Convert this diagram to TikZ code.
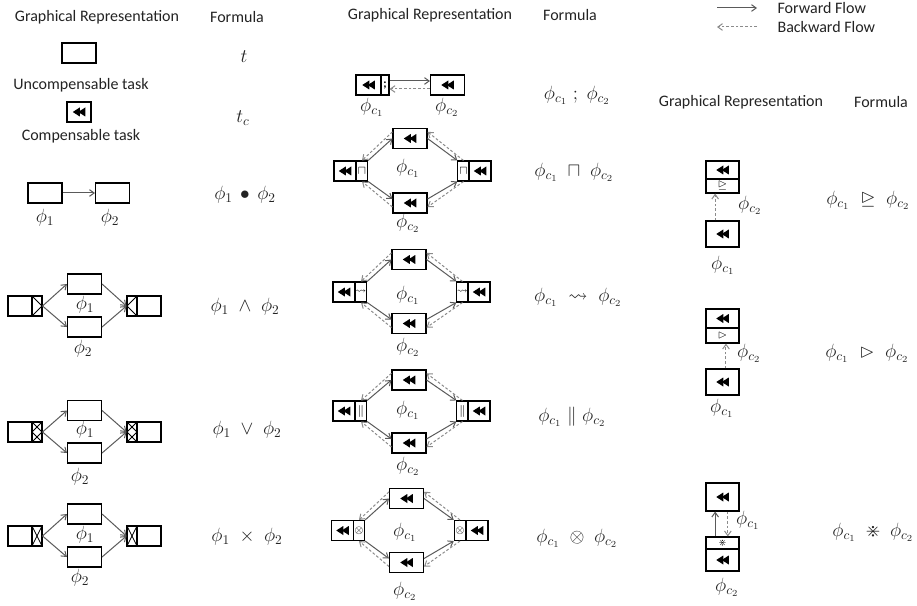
\documentclass[tikz,border=0pt]{standalone}
\usepackage{amssymb,amsmath}
\usepackage{xcolor}
\usepackage{fontspec}
\setmainfont{Carlito}
\usepackage{tikz}
\usetikzlibrary{arrows.meta}
\definecolor{cfgray}{RGB}{90,90,90}
\definecolor{cftext}{RGB}{35,35,35}
\newcommand{\cfrw}{\tikz[x=0.75pt,y=0.75pt,baseline=-3pt]{\fill (0,0) -- (7,4.5) -- (7,-4.5) -- cycle; \fill (5.5,0) -- (12.5,4.5) -- (12.5,-4.5) -- cycle;}}
\tikzset{
  cfbox/.style={draw, line width=0.8pt, inner sep=0pt, minimum width=25.5pt, minimum height=15pt},
  cfhalf/.style={cfbox, minimum width=16.5pt},
  cfgate/.style={cfbox, minimum width=8.5pt, font=\small},
  cfplain/.style={cfbox, minimum width=18pt},
  cfgl/.style={cfbox, minimum width=7.5pt},
  cfsplit/.style={cfgl, path picture={\draw[line width=0.6pt] (path picture bounding box.north west) -- (path picture bounding box.east) -- (path picture bounding box.south west);}},
  cfjoin/.style={cfgl, path picture={\draw[line width=0.6pt] (path picture bounding box.north east) -- (path picture bounding box.west) -- (path picture bounding box.south east);}},
  cfor/.style={cfgl, path picture={\draw[line width=0.6pt] (path picture bounding box.north west) -- (path picture bounding box.east) -- (path picture bounding box.south west);
    \draw[line width=0.6pt] (path picture bounding box.north east) -- (path picture bounding box.west) -- (path picture bounding box.south east);}},
  cfxor/.style={cfgl, path picture={\draw[line width=0.6pt] (path picture bounding box.north west) -- (path picture bounding box.south east);
    \draw[line width=0.6pt] (path picture bounding box.north east) -- (path picture bounding box.south west);}},
  cfrbox/.style={draw, line width=0.8pt, inner sep=0pt, minimum width=24.75pt},
  cffwd/.style={-{Straight Barb[length=3.5pt,width=5pt]}, draw=cfgray, line width=0.75pt},
  cfbwd/.style={cffwd, draw=cfgray!70, dash pattern=on 2pt off 1.5pt},
  cfhead/.style={text=cftext, font=\fontsize{12}{14}\selectfont, inner sep=1pt},
  cfmath/.style={text=cftext, font=\Large, inner sep=0pt}
}
\begin{document}
\begin{tikzpicture}[x=0.75pt,y=-0.75pt]
  \useasboundingbox (0,0) rectangle (917,606);
  \node[cfhead] (hA) at (97,17) {Graphical Representation};
  \node[cfhead] (hB) at (237,17) {Formula};
  \node[cfhead] (hC) at (430,15) {Graphical Representation};
  \node[cfhead] (hD) at (570,15) {Formula};
  \node[cfhead] (hE) at (741,102) {Graphical Representation};
  \node[cfhead] (hF) at (881,102) {Formula};
  \coordinate (fA) at (717,8);
  \coordinate (fB) at (757,8);
  \coordinate (bA) at (757,27);
  \coordinate (bB) at (717,27);
  \node[cfhead, anchor=west] (fT) at (776,8) {Forward Flow};
  \node[cfhead, anchor=west] (bT) at (776,27) {Backward Flow};
  \draw[cffwd] (fA) -- (fB);
  \draw[cfbwd] (bA) -- (bB);

  \node[cfbox] (uT) at (79,53) {};
  \node[cfhead] (uL) at (81,85) {Uncompensable task};
  \node[cfbox, minimum width=18pt] (cT) at (79,112) {\cfrw};
  \node[cfhead] (cL) at (81,136) {Compensable task};
  \node[cfmath] (uF) at (244,57) {$t$};
  \node[cfmath] (cF) at (243,118) {$t_c$};

  \node[cfbox] (s1) at (45,193) {};
  \node[cfbox] (s2) at (112.5,193) {};
  \node[cfmath] (s1L) at (45,218) {$\phi_1$};
  \node[cfmath] (s2L) at (110,218) {$\phi_2$};
  \node[cfmath] (sF) at (245,195) {$\phi_1 \,\bullet\, \phi_2$};
  \draw[cffwd] (s1) -- (s2);

  \node[cfplain] (aLp) at (20,306) {};
  \node[cfsplit] (aLg) at (37,306) {};
  \node[cfbox] (a1) at (84.5,284) {};
  \node[cfbox] (a2) at (84.5,327) {};
  \node[cfjoin] (aRg) at (132,306) {};
  \node[cfplain] (aRp) at (149,306) {};
  \node[cfmath] (a1L) at (85,305) {$\phi_1$};
  \node[cfmath] (a2L) at (83,349) {$\phi_2$};
  \node[cfmath] (aF) at (245,307) {$\phi_1 \;\wedge\; \phi_2$};
  \draw[cffwd] (aLg.east) -- (a1.west);
  \draw[cffwd] (aLg.east) -- (a2.west);
  \draw[cffwd] (a1.east) -- (aRg.west);
  \draw[cffwd] (a2.east) -- (aRg.west);

  \node[cfplain] (oLp) at (20,432) {};
  \node[cfor] (oLg) at (37,432) {};
  \node[cfbox] (o1) at (84.5,410.5) {};
  \node[cfbox] (o2) at (84.5,453) {};
  \node[cfor] (oRg) at (132,432) {};
  \node[cfplain] (oRp) at (149,432) {};
  \node[cfmath] (o1L) at (85,430) {$\phi_1$};
  \node[cfmath] (o2L) at (80,477) {$\phi_2$};
  \node[cfmath] (oF) at (247,430) {$\phi_1 \;\vee\; \phi_2$};
  \draw[cffwd] (oLg.east) -- (o1.west);
  \draw[cffwd] (oLg.east) -- (o2.west);
  \draw[cffwd] (o1.east) -- (oRg.west);
  \draw[cffwd] (o2.east) -- (oRg.west);

  \node[cfplain] (xLp) at (20,536) {};
  \node[cfxor] (xLg) at (37,536) {};
  \node[cfbox] (x1) at (84.5,514) {};
  \node[cfbox] (x2) at (84.5,557) {};
  \node[cfxor] (xRg) at (132,536) {};
  \node[cfplain] (xRp) at (149,536) {};
  \node[cfmath] (x1L) at (85,535) {$\phi_1$};
  \node[cfmath] (x2L) at (80,578) {$\phi_2$};
  \node[cfmath] (xF) at (247,537) {$\phi_1 \;\times\; \phi_2$};
  \draw[cffwd] (xLg.east) -- (x1.west);
  \draw[cffwd] (xLg.east) -- (x2.west);
  \draw[cffwd] (x1.east) -- (xRg.west);
  \draw[cffwd] (x2.east) -- (xRg.west);

  \node[cfhalf, minimum width=18.75pt] (q1t) at (368.5,85) {\cfrw};
  \node[cfgate, minimum width=6pt] (q1g) at (385,85) {\textbf{;}};
  \node[cfbox] (q2) at (447.5,85) {\cfrw};
  \node[cfmath] (q1L) at (372,107) {$\phi_{c_1}$};
  \node[cfmath] (q2L) at (447,107) {$\phi_{c_2}$};
  \node[cfmath] (qF) at (577,95) {$\phi_{c_1} \;;\; \phi_{c_2}$};
  \draw[cffwd] ([yshift=3pt]q1g.east) -- ([yshift=3pt]q2.west);
  \draw[cfbwd] ([yshift=-3pt]q2.west) -- ([yshift=-3pt]q1g.east);

  \node[cfhalf] (r2lt) at (345,171) {\cfrw};
  \node[cfgate] (r2lg) at (362,171) {$\sqcap$};
  \node[cfbox] (r2a) at (410,138.5) {\cfrw};
  \node[cfbox] (r2b) at (410,203) {\cfrw};
  \node[cfgate] (r2rg) at (463.5,171) {$\sqcap$};
  \node[cfhalf] (r2rt) at (480,171) {\cfrw};
  \node[cfmath] (r2aL) at (408,168) {$\phi_{c_1}$};
  \node[cfmath] (r2bL) at (408,223) {$\phi_{c_2}$};
  \node[cfmath] (r2F) at (574,172) {$\phi_{c_1} \;\sqcap\; \phi_{c_2}$};
  \draw[cffwd] (r2lg.north east) -- (r2a.west);
  \draw[cfbwd] ([yshift=5pt]r2a.west) -- (r2lg.north);
  \draw[cffwd] (r2a.east) -- (r2rg.north west);
  \draw[cfbwd] (r2rg.north) -- ([yshift=5pt]r2a.east);
  \draw[cffwd] (r2lg.south east) -- ([yshift=3pt]r2b.west);
  \draw[cfbwd] ([yshift=-3pt]r2b.west) -- (r2lg.south);
  \draw[cffwd] ([yshift=3pt]r2b.east) -- (r2rg.south west);
  \draw[cfbwd] (r2rg.south) -- ([yshift=-3pt]r2b.east);

  \node[cfhalf] (r3lt) at (344,292) {\cfrw};
  \node[cfgate, font=\scriptsize] (r3lg) at (361,292) {$\leadsto$};
  \node[cfbox] (r3a) at (409,259.5) {\cfrw};
  \node[cfbox] (r3b) at (409,323.5) {\cfrw};
  \node[cfgate, font=\scriptsize] (r3rg) at (462.5,292) {$\leadsto$};
  \node[cfhalf] (r3rt) at (479,292) {\cfrw};
  \node[cfmath] (r3aL) at (408,295) {$\phi_{c_1}$};
  \node[cfmath] (r3bL) at (408,347) {$\phi_{c_2}$};
  \node[cfmath] (r3F) at (578,297) {$\phi_{c_1} \;\leadsto\; \phi_{c_2}$};
  \draw[cffwd] (r3lg.north east) -- (r3a.west);
  \draw[cfbwd] ([yshift=5pt]r3a.west) -- (r3lg.north);
  \draw[cffwd] (r3a.east) -- (r3rg.north west);
  \draw[cfbwd] (r3rg.north) -- ([yshift=5pt]r3a.east);
  \draw[cffwd] (r3lg.south east) -- ([yshift=3pt]r3b.west);
  \draw[cfbwd] ([yshift=-3pt]r3b.west) -- (r3lg.south);
  \draw[cffwd] ([yshift=3pt]r3b.east) -- (r3rg.south west);
  \draw[cfbwd] (r3rg.south) -- ([yshift=-3pt]r3b.east);

  \node[cfhalf] (r4lt) at (344,411) {\cfrw};
  \node[cfgate] (r4lg) at (361,411) {$\|$};
  \node[cfbox] (r4a) at (409,380) {\cfrw};
  \node[cfbox] (r4b) at (409,443) {\cfrw};
  \node[cfgate] (r4rg) at (462.5,411) {$\|$};
  \node[cfhalf] (r4rt) at (479,411) {\cfrw};
  \node[cfmath] (r4aL) at (408,410) {$\phi_{c_1}$};
  \node[cfmath] (r4bL) at (408,466) {$\phi_{c_2}$};
  \node[cfmath] (r4F) at (572,417) {$\phi_{c_1} \;\|\; \phi_{c_2}$};
  \draw[cffwd] (r4lg.north east) -- (r4a.west);
  \draw[cfbwd] ([yshift=5pt]r4a.west) -- (r4lg.north);
  \draw[cffwd] (r4a.east) -- (r4rg.north west);
  \draw[cfbwd] (r4rg.north) -- ([yshift=5pt]r4a.east);
  \draw[cffwd] (r4lg.south east) -- ([yshift=3pt]r4b.west);
  \draw[cfbwd] ([yshift=-3pt]r4b.west) -- (r4lg.south);
  \draw[cffwd] ([yshift=3pt]r4b.east) -- (r4rg.south west);
  \draw[cfbwd] (r4rg.south) -- ([yshift=-3pt]r4b.east);

  \node[cfhalf] (r5lt) at (342.5,530.5) {\cfrw};
  \node[cfgate, font=\footnotesize] (r5lg) at (359,530.5) {$\otimes$};
  \node[cfbox] (r5a) at (406.5,498.5) {\cfrw};
  \node[cfbox] (r5b) at (406.5,562.5) {\cfrw};
  \node[cfgate, font=\footnotesize] (r5rg) at (460,530.5) {$\otimes$};
  \node[cfhalf] (r5rt) at (477,530.5) {\cfrw};
  \node[cfmath] (r5aL) at (405,532) {$\phi_{c_1}$};
  \node[cfmath] (r5bL) at (405,591) {$\phi_{c_2}$};
  \node[cfmath] (r5F) at (577,538) {$\phi_{c_1} \;\otimes\; \phi_{c_2}$};
  \draw[cffwd] (r5lg.north east) -- (r5a.west);
  \draw[cfbwd] ([yshift=5pt]r5a.west) -- (r5lg.north);
  \draw[cffwd] (r5a.east) -- (r5rg.north west);
  \draw[cfbwd] (r5rg.north) -- ([yshift=5pt]r5a.east);
  \draw[cffwd] (r5lg.south east) -- ([yshift=3pt]r5b.west);
  \draw[cfbwd] ([yshift=-3pt]r5b.west) -- (r5lg.south);
  \draw[cffwd] ([yshift=3pt]r5b.east) -- (r5rg.south west);
  \draw[cfbwd] (r5rg.south) -- ([yshift=-3pt]r5b.east);

  \node[cfrbox, minimum height=13.5pt] (vAu) at (722.5,170) {\cfrw};
  \node[cfrbox, minimum height=10.5pt, font=\small] (vAl) at (722.5,186) {$\trianglerighteq$};
  \node[cfrbox, minimum height=19.5pt] (vAc) at (722.5,234) {\cfrw};
  \node[cfmath] (vAlL) at (750,205) {$\phi_{c_2}$};
  \node[cfmath] (vAcL) at (723,265) {$\phi_{c_1}$};
  \node[cfmath] (vAF) at (868,200) {$\phi_{c_1} \;\trianglerighteq\; \phi_{c_2}$};
  \draw[cfbwd] ([xshift=-5.5pt]vAc.north) -- ([xshift=-5.5pt]vAl.south);

  \node[cfrbox, minimum height=14.25pt] (vBu) at (722.5,318.5) {\cfrw};
  \node[cfrbox, minimum height=11.25pt, font=\small] (vBl) at (722.5,335.5) {$\vartriangleright$};
  \node[cfrbox, minimum height=19.5pt] (vBc) at (722.5,382) {\cfrw};
  \node[cfmath] (vBlL) at (749,353) {$\phi_{c_2}$};
  \node[cfmath] (vBcL) at (722,408) {$\phi_{c_1}$};
  \node[cfmath] (vBF) at (867,353) {$\phi_{c_1} \;\vartriangleright\; \phi_{c_2}$};
  \draw[cfbwd] ([xshift=2.6pt]vBc.north) -- ([xshift=2.6pt]vBl.south);

  \node[cfrbox, minimum height=21pt] (vC1) at (722.5,497) {\cfrw};
  \node[cfrbox, minimum height=9pt, font=\scriptsize] (vCt) at (722.5,543) {$\divideontimes$};
  \node[cfrbox, minimum height=16.5pt] (vC2) at (722.5,560) {\cfrw};
  \node[cfmath] (vC1L) at (748,520) {$\phi_{c_1}$};
  \node[cfmath] (vC2L) at (727,587) {$\phi_{c_2}$};
  \node[cfmath] (vCF) at (873,532) {$\phi_{c_1} \;\divideontimes\; \phi_{c_2}$};
  \draw[cffwd] ([xshift=-5.5pt]vCt.north) -- ([xshift=-5.5pt]vC1.south);
  \draw[cfbwd] ([xshift=4pt]vC1.south) -- ([xshift=4pt]vCt.north);
\end{tikzpicture}
\end{document}
